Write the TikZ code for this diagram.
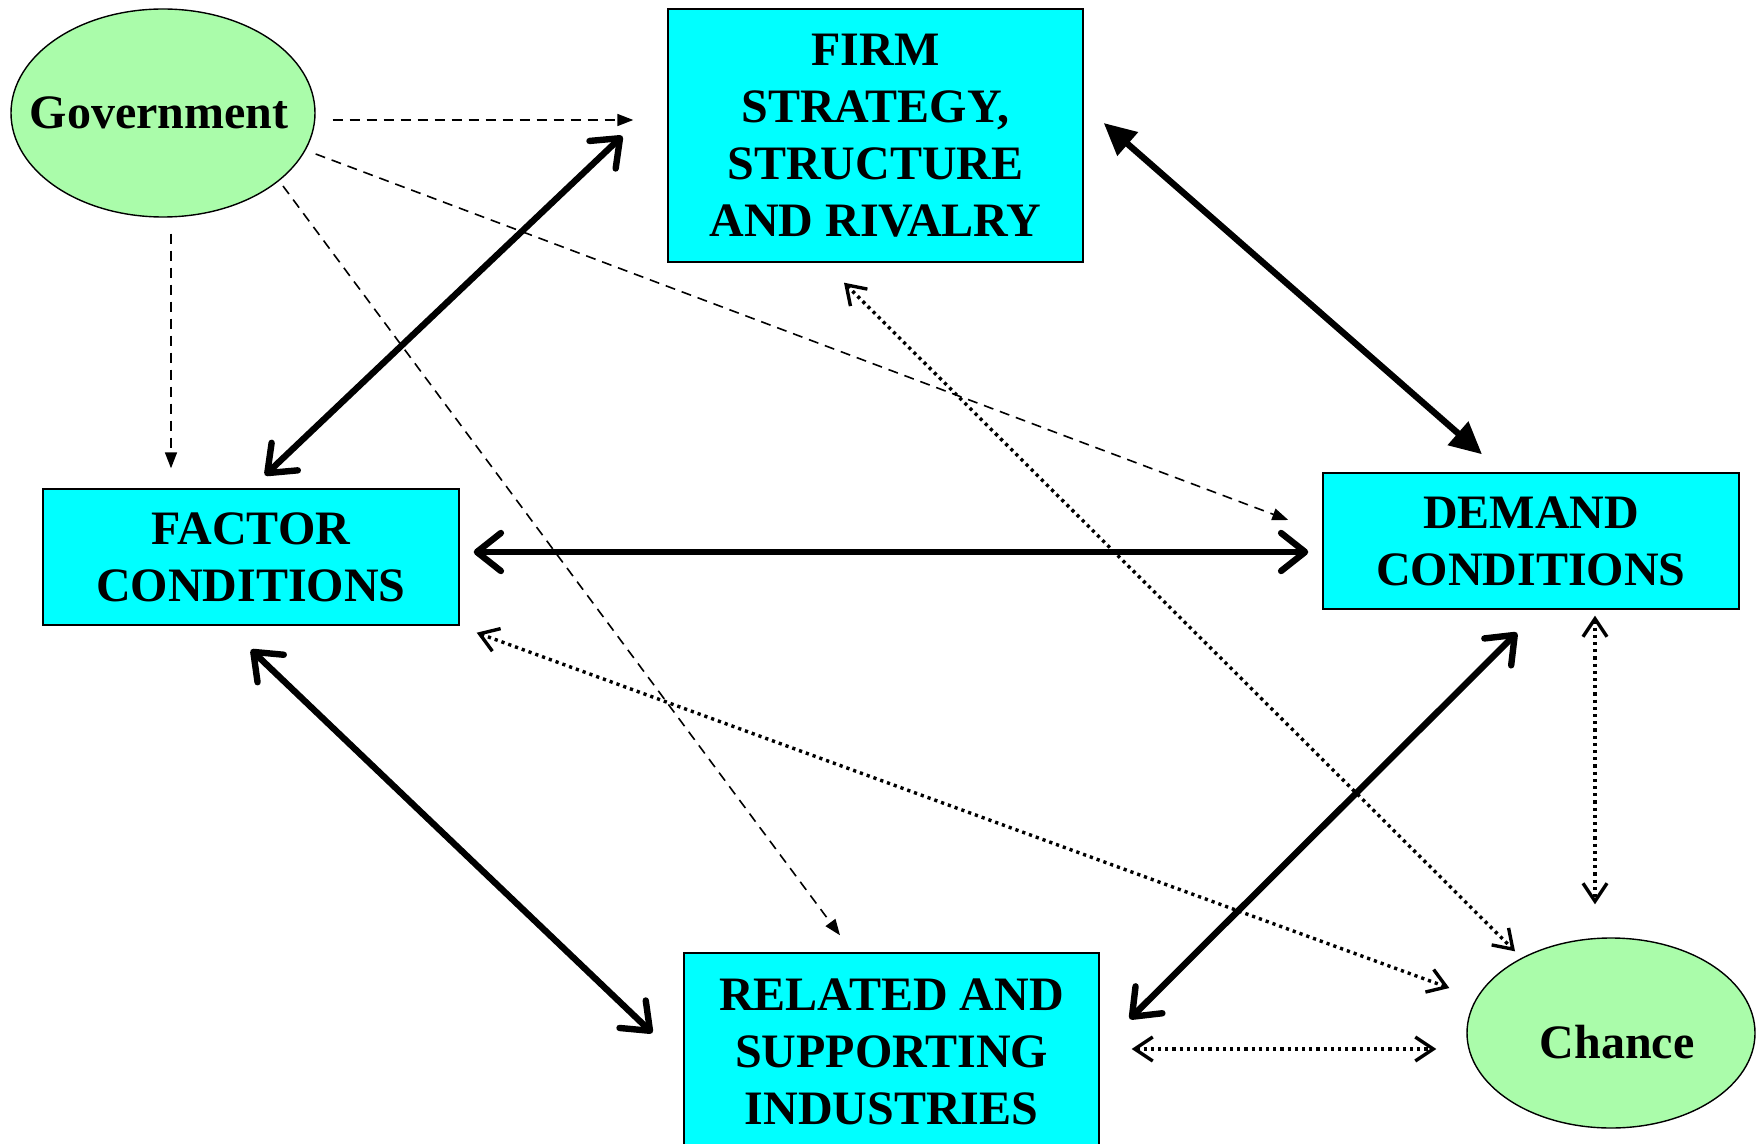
\documentclass[tikz,border=0pt]{standalone}
\usepackage{fontspec}
\setmainfont{Liberation Serif}
\usetikzlibrary{arrows.meta,shapes.geometric}
\definecolor{boxcyan}{RGB}{0,255,255}
\definecolor{ovalgreen}{RGB}{170,252,170}
\begin{document}
\begin{tikzpicture}[x=0.5pt,y=-0.5pt,
  every node/.style={font=\fontsize{24}{28.5}\selectfont\bfseries, align=center, inner sep=0pt},
  forcebox/.style={draw=black, line width=0.7pt, fill=boxcyan, rectangle},
  oval/.style={draw=black, line width=0.7pt, fill=ovalgreen, ellipse},
  strong/.style={line width=3.2pt, {Straight Barb[length=12pt,width=19pt,round]}-{Straight Barb[length=12pt,width=19pt,round]}},
  strongtri/.style={line width=3.2pt, {Triangle[length=16pt,width=15pt]}-{Triangle[length=16pt,width=15pt]}},
  govlink/.style={line width=0.8pt, dash pattern=on 5pt off 3.5pt, -{Triangle[length=8pt,width=6pt]}},
  chancelink/.style={line width=1.7pt, dash pattern=on 1.6pt off 2pt, {Straight Barb[length=9pt,width=12pt]}-{Straight Barb[length=9pt,width=12pt]}}
]
\useasboundingbox (0,0) rectangle (1760,1144);
\fill[white] (0,0) rectangle (1760,1144);

\node[oval, minimum width=152pt, minimum height=104pt, label={[xshift=-2pt]center:Government}] (gov) at (163,113) {};
\node[forcebox, minimum width=207.5pt, minimum height=126.5pt] (firm) at (875.5,135.5) {FIRM\\STRATEGY,\\STRUCTURE\\AND RIVALRY};
\node[forcebox, minimum width=208pt, minimum height=68pt] (factor) at (251,557) {FACTOR\\CONDITIONS};
\node[forcebox, minimum width=208pt, minimum height=68pt] (demand) at (1531,541) {DEMAND\\CONDITIONS};
\node[forcebox, minimum width=207.5pt, minimum height=99pt] (related) at (891.5,1052) {RELATED AND\\SUPPORTING\\INDUSTRIES};
\node[oval, minimum width=144pt, minimum height=95pt, label={[xshift=3pt,yshift=-4.5pt]center:Chance}] (chance) at (1611,1033) {};

% government influences (dashed)
\draw[govlink] ([shift={(17,7)}]gov.east) -- ([shift={(-34,-15.5)}]firm.west);
\draw[govlink] ([shift={(0,41)}]gov.east) -- ([shift={(-34,-21)}]demand.west);
\draw[govlink] ([shift={(120,73)}]gov.center) -- ([shift={(-51.5,-17)}]related.north);
\draw[govlink] ([shift={(8,16)}]gov.south) -- ([shift={(-80,-20)}]factor.north);

% diamond (thick)
\draw[strong] ([shift={(14,-13)}]factor.north) -- ([shift={(-45,0.5)}]firm.west);
\draw[strongtri] ([shift={(20,-12.5)}]firm.east) -- ([shift={(-49,-18)}]demand.north);
\draw[strong] ([shift={(14,-5)}]factor.east) -- ([shift={(-14,11)}]demand.west);
\draw[strong] ([shift={(0,24)}]factor.south) -- ([shift={(-31,-19)}]related.west);
\draw[strong] ([shift={(-14,23)}]demand.south) -- ([shift={(30,-33)}]related.east);

% chance links (dotted)
\draw[chancelink] ([shift={(17,7)}]factor.south east) -- ([shift={(-17,-45)}]chance.west);
\draw[chancelink] ([shift={(-31.5,20)}]firm.south) -- ([shift={(-96,14)}]chance.north);
\draw[chancelink] ([shift={(64,6)}]demand.south) -- ([shift={(-16,-33)}]chance.north);
\draw[chancelink] ([shift={(32,-3)}]related.east) -- ([shift={(-30,16)}]chance.west);
\end{tikzpicture}
\end{document}
